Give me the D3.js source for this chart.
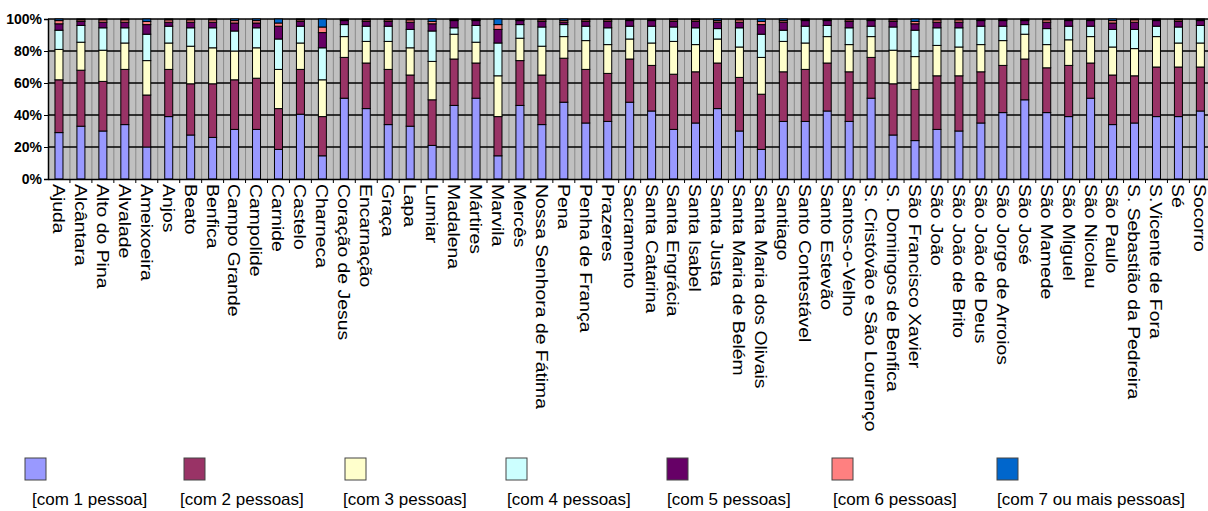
<!DOCTYPE html>
<html><head><meta charset="utf-8">
<script src="https://cdn.jsdelivr.net/npm/d3@7"></script>
<style>
html,body{margin:0;padding:0;background:#fff;}
svg{display:block;font-family:"Liberation Sans",Arial,sans-serif;}
</style></head>
<body>
<svg id="chart" width="1208" height="511"></svg>
<script>
const categories = ["Ajuda","Alcântara","Alto do Pina","Alvalade","Ameixoeira","Anjos","Beato","Benfica","Campo Grande","Campolide","Carnide","Castelo","Charneca","Coração de Jesus","Encarnação","Graça","Lapa","Lumiar","Madalena","Mártires","Marvila","Mercês","Nossa Senhora de Fátima","Pena","Penha de França","Prazeres","Sacramento","Santa Catarina","Santa Engrácia","Santa Isabel","Santa Justa","Santa Maria de Belém","Santa Maria dos Olivais","Santiago","Santo Contestável","Santo Estevão","Santos-o-Velho","S. Cristóvão e São Lourenço","S. Domingos de Benfica","São Francisco Xavier","São João","São João de Brito","São João de Deus","São Jorge de Arroios","São José","São Mamede","São Miguel","São Nicolau","São Paulo","S. Sebastião da Pedreira","S.Vicente de Fora","Sé","Socorro"];

const seriesNames = ["[com 1 pessoa]","[com 2 pessoas]","[com 3 pessoas]","[com 4 pessoas]","[com 5 pessoas]","[com 6 pessoas]","[com 7 ou mais pessoas]"];

const p1 = [29,33,30,34,20,39,27.5,26,31,31,18.5,40.5,14.5,50.5,44,34,33,21,46,50.5,14.5,46,34,48,35,36,48,42.5,31,35,44,30,18.5,36,36,42.5,36,50.5,27.5,24,31,30,35,41.5,49.5,41.5,39,50.5,34,35,39,39,42.5];
const p2 = [33,35,31,34.5,32.5,29.5,32,33.5,31,32,25.5,28,24.5,25.5,28.5,34.5,32,28.5,29,22,24.5,28,31,27.5,33.5,30,27,28.5,34.5,32,28.5,33.5,34.5,31,32.5,30,31,25.5,32,32,33.5,34.5,32,29.5,25.5,28,32,22,31,29.5,31,31,27.5];
const p3 = [19,17.5,19.5,16.5,21.5,16.5,23.5,22.5,18,19,24.5,16.5,23,13,13.5,17.5,17,24,15.5,13,25.5,14,18,13.5,18,18,12.5,14,20.5,17,15,19,23,19,16.5,16.5,17,13,21,20.5,19,18,17,15.5,15.5,14.5,16,16.5,17.5,17,19,15,15];
const p4 = [12,10.5,14,9.5,16.5,10.5,11.5,12.5,12.5,12.5,19,10.5,20,7.5,9.5,9.5,11.5,19,4,10.5,20.5,8.5,12,7.5,9,10.5,8,10.5,9,10.5,6.5,12,14.5,7,10.5,7,10.5,6.5,14.5,16.5,11,12,11.5,9,6,10,8.5,6.5,11,12,6.5,10,11];
const p5 = [4,2.5,3.5,3.5,6,2.5,3.5,3.5,5,3,8,3,9.5,2.5,3,3,4.5,4.5,4.5,3,8.5,2.5,3.5,1.5,3,4,3.5,3.5,3.5,4,4,3.5,6,5,3.5,3,4,3.5,3.5,4,3.5,3.5,3.5,3.5,2.5,4,3.5,3.5,4,4.5,3.5,3.5,3];
const p6 = [2,1,1.5,1.5,2,1.5,1.5,1.5,1.5,1.5,2,1,3.5,0.5,1,1,1.5,1.5,0.5,0.5,3,0.5,1,1,1,1,0.5,0.5,1,1,1,1.5,2,1,0.5,0.5,1,0.5,1,1.5,1.5,1.5,0.5,0.5,0.5,1.5,0.5,0.5,1.5,1.5,0.5,1,0.5];
const p7 = [1,0.5,0.5,0.5,1.5,0.5,0.5,0.5,1,1,2.5,0.5,5,0.5,0.5,0.5,0.5,1.5,0.5,0.5,3.5,0.5,0.5,1,0.5,0.5,0.5,0.5,0.5,0.5,1,0.5,1.5,1,0.5,0.5,0.5,0.5,0.5,1.5,0.5,0.5,0.5,0.5,0.5,0.5,0.5,0.5,1,0.5,0.5,0.5,0.5];
const yTicks = [0,0.2,0.4,0.6,0.8,1];
const colors = ["#9999FF","#993366","#FFFFCC","#CCFFFF","#660066","#FF8080","#0066CC"];

(function(){
const allSeries = [p1,p2,p3,p4,p5,p6,p7];
const table = categories.map((c,i)=>{const o={cat:c}; seriesNames.forEach((s,k)=>o[s]=allSeries[k][i]); return o;});

const svg = d3.select("#chart");
const W = 1208;
const step = 21.95;
const pLeft = 48, pTop = 19, pBottom = 179;
const pRight = pLeft + step*categories.length;

const x = d3.scaleBand().domain(categories).range([pLeft, pRight]).paddingInner(0.6).paddingOuter(0.3);
const y = d3.scaleLinear().domain([0,1]).range([pBottom, pTop]);

const stacked = d3.stack().keys(seriesNames).offset(d3.stackOffsetExpand)(table);

svg.append("rect").attr("x",pLeft).attr("y",pTop).attr("width",W-pLeft).attr("height",pBottom-pTop).attr("fill","#C0C0C0");

const sep = svg.append("g");
for(let k=1;k<categories.length;k++){
  const xx = pLeft + step*k;
  sep.append("line").attr("x1",xx).attr("x2",xx).attr("y1",pTop).attr("y2",pBottom).attr("stroke","#8a8a8a").attr("stroke-width",1);
}

svg.append("g").selectAll("line").data(yTicks.slice(1)).join("line")
  .attr("x1",pLeft).attr("x2",W).attr("y1",d=>y(d)).attr("y2",d=>y(d))
  .attr("stroke","#000").attr("stroke-width",1.5);

const bw = 8;
svg.append("g").selectAll("g").data(stacked).join("g")
  .attr("fill",(d,i)=>colors[i])
  .selectAll("rect").data(d=>d).join("rect")
  .attr("x",d=>x(d.data.cat)+x.bandwidth()/2-bw/2)
  .attr("width",bw)
  .attr("y",d=>y(d[1]))
  .attr("height",d=>Math.max(0,y(d[0])-y(d[1])))
  .attr("stroke","#000").attr("stroke-width",1);

const yAxis = d3.axisLeft(y).tickValues(yTicks).tickFormat(d3.format(".0%")).tickSize(4).tickPadding(2);
const ya = svg.append("g").attr("transform",`translate(${pLeft},0)`).call(yAxis);
ya.select(".domain").attr("stroke","#000").attr("stroke-width",1.5);
ya.selectAll(".tick line").attr("stroke","#000");
ya.selectAll("text").attr("font-size",14).attr("font-weight","bold").attr("fill","#000").style("font-family","Liberation Sans, Arial, sans-serif");

const xa = svg.append("g").attr("transform",`translate(0,${pBottom})`).call(d3.axisBottom(x).tickSize(0).tickFormat(""));
xa.select(".domain").attr("stroke","#000").attr("stroke-width",1.5);
for(let k=1;k<categories.length;k++){
  const xx = pLeft + step*k;
  xa.append("line").attr("x1",xx).attr("x2",xx).attr("y1",0).attr("y2",4).attr("stroke","#000");
}
const lab = svg.append("g");
categories.forEach(c=>{
  const cx = x(c)+x.bandwidth()/2;
  lab.append("text").attr("transform",`translate(${cx},${pBottom+5}) rotate(90) scale(1.14,1)`)
    .attr("dy","0.36em").attr("text-anchor","start").attr("font-size",17).attr("fill","#000").text(c);
});

const legX = [25,184,345,506,667,832,997];
const legTX = [32,180,343,507,667,833,997];
const leg = svg.append("g");
seriesNames.forEach((s,i)=>{
  leg.append("rect").attr("x",legX[i]).attr("y",458).attr("width",21).attr("height",22)
    .attr("fill",colors[i]).attr("stroke","#444").attr("stroke-width",1);
  leg.append("text").attr("x",legTX[i]).attr("y",505).attr("font-size",17).attr("fill","#000").text(s);
});
})();
</script>
</body></html>
